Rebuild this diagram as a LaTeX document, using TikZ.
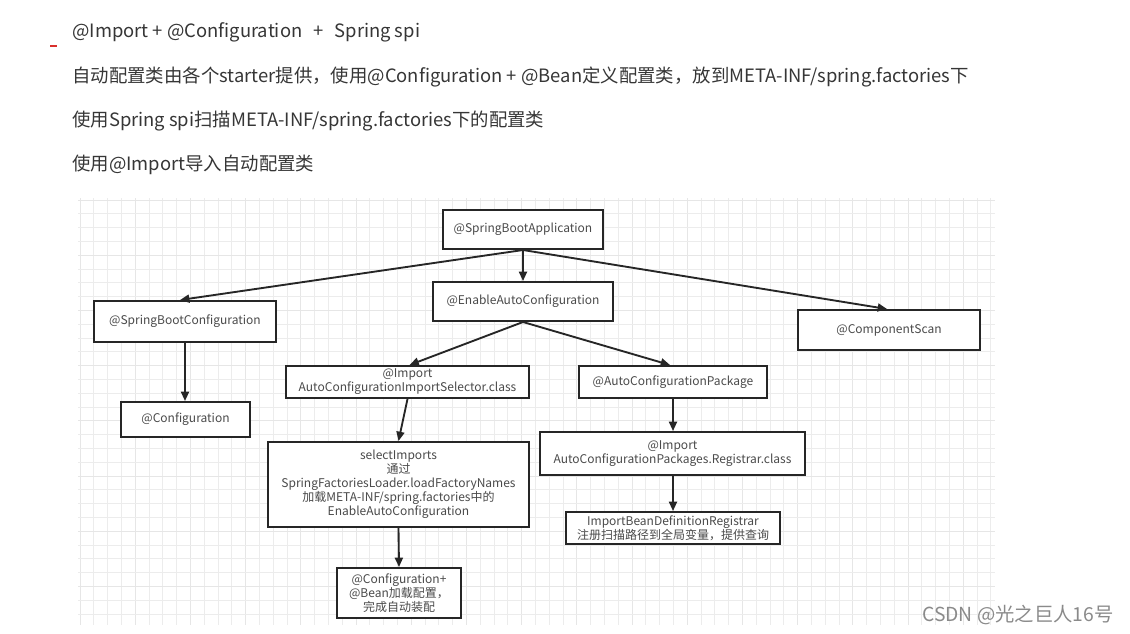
\documentclass[tikz,border=0pt]{standalone}
\usepackage{fontspec}
\setmainfont{Noto Sans CJK SC}
\usetikzlibrary{arrows.meta,calc}
\definecolor{toptxt}{HTML}{363636}
\definecolor{dtxt}{HTML}{4A4A4A}
\definecolor{boxc}{HTML}{262626}
\definecolor{gridminor}{HTML}{ECECEC}
\definecolor{gridmajor}{HTML}{E6E6E6}
\definecolor{redmark}{HTML}{D9302C}
\definecolor{wm}{HTML}{8A8A8A}
\begin{document}
\begin{tikzpicture}[x=0.75pt,y=-0.75pt,
  box/.style={draw=boxc, line width=1.5pt, fill=white, inner sep=0pt, align=center,
    text=dtxt, font=\fontsize{9}{10.5}\selectfont},
  arr/.style={draw=boxc, line width=1.4pt, -{Triangle[length=7pt,width=6pt]}},
  toptext/.style={anchor=base west, inner sep=0pt, text=toptxt, font=\fontsize{13.8}{16}\selectfont},
  gridl/.style={draw=gridminor, line width=0.6pt},
  gridL/.style={draw=gridmajor, line width=0.7pt}]
\useasboundingbox (0,0) rectangle (1130,633);
\fill[white] (0,0) rectangle (1130,633);

% grid background
\foreach \i in {0,...,66} {
  \pgfmathsetmacro{\gx}{80+\i*13.8}
  \ifnum\numexpr\i-4*(\i/4)\relax=0
    \draw[gridL] (\gx,198) -- (\gx,625);
  \else
    \draw[gridl] (\gx,198) -- (\gx,625);
  \fi
}
\foreach \j in {0,...,30} {
  \pgfmathsetmacro{\gy}{200+\j*13.8}
  \ifnum\numexpr\j-4*(\j/4)\relax=0
    \draw[gridL] (78,\gy) -- (995,\gy);
  \else
    \draw[gridl] (78,\gy) -- (995,\gy);
  \fi
}

% red mark
\draw[redmark, line width=1.5pt] (50,46) -- (57,46);

% top text
\node[toptext] (t1) at (72,37) {@Import + @Configuration\hspace{0.6em}+\hspace{0.6em}Spring spi};
\node[toptext] (t2) at (72,82) {自动配置类由各个starter提供，使用@Configuration + @Bean定义配置类，放到META-INF/spring.factories下};
\node[toptext] (t3) at (72,126) {使用Spring spi扫描META-INF/spring.factories下的配置类};
\node[toptext] (t4) at (72,170) {使用@Import导入自动配置类};

% boxes
\node[box, minimum width=120pt, minimum height=29.25pt] (sba) at (523,229.5) {@SpringBootApplication};
\node[box, minimum width=135pt, minimum height=29.25pt] (eac) at (523,301.5) {@EnableAutoConfiguration};
\node[box, minimum width=136.5pt, minimum height=30.75pt] (sbc) at (185,321.5) {@SpringBootConfiguration};
\node[box, minimum width=136.5pt, minimum height=30pt] (cs) at (889,330) {@ComponentScan};
\node[box, minimum width=96.75pt, minimum height=26.25pt] (cfg) at (185.5,419.5) {@Configuration};
\node[box, minimum width=182.25pt, minimum height=24pt] (sel) at (407.5,382) {@Import\\AutoConfigurationImportSelector.class};
\node[box, minimum width=141pt, minimum height=24pt] (acp) at (673,382) {@AutoConfigurationPackage};
\node[box, minimum width=195.75pt, minimum height=63.75pt] (si) at (398.5,484.5) {selectImports\\通过\\SpringFactoriesLoader.loadFactoryNames\\加载META-INF/spring.factories中的\\EnableAutoConfiguration};
\node[box, minimum width=198.75pt, minimum height=32.25pt] (reg) at (672.5,453.5) {@Import\\AutoConfigurationPackages.Registrar.class};
\node[box, minimum width=160.5pt, minimum height=24pt] (ibdr) at (673,528) {ImportBeanDefinitionRegistrar\\注册扫描路径到全局变量，提供查询};
\node[box, minimum width=93pt, minimum height=37.5pt] (fin) at (399,593) {@Configuration+\\@Bean加载配置，\\完成自动装配};

% connectors
\draw[arr] (sba.south) -- ($(sbc.north)+(-5,0)$);
\draw[arr] (sba.south) -- (eac.north);
\draw[arr] (sba.south) -- ($(cs.north)+(-2,0)$);
\draw[arr] (eac.south) -- ($(sel.north)+(2,0)$);
\draw[arr] (eac.south) -- ($(acp.north)+(-3,0)$);
\draw[arr] (sbc.south) -- (cfg.north -| sbc.south);
\draw[arr] (sel.south) -- (si.north);
\draw[arr] (acp.south) -- (reg.north -| acp.south);
\draw[arr] (reg.south -| ibdr.north) -- (ibdr.north);
\draw[arr] (si.south) -- (fin.north);

% watermark
\node[anchor=base west, inner sep=0pt, text=wm, font=\fontsize{14.5}{16}\selectfont] (wmk) at (922,621) {CSDN @光之巨人16号};
\end{tikzpicture}
\end{document}
